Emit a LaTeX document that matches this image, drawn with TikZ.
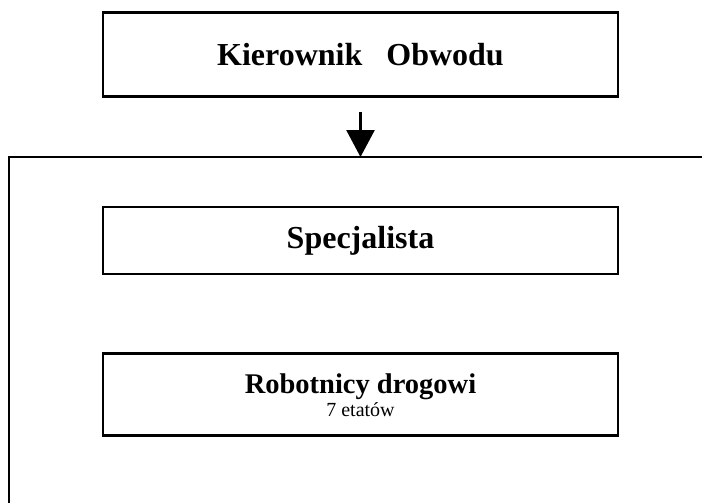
\documentclass[tikz,border=0pt]{standalone}
\usepackage{fontspec}
\setmainfont{Liberation Serif}
\usetikzlibrary{arrows.meta, positioning}

\begin{document}
\begin{tikzpicture}[
    x=1pt, y=-1pt,
    box/.style={rectangle, draw, line width=2.7pt, minimum width=515pt, align=center, inner sep=0pt},
    boxtitle/.style={font=\fontsize{32}{36}\selectfont\bfseries},
    arrow/.style={-{Triangle[length=27pt, width=28pt]}, line width=2.7pt},
    frame/.style={line width=2.7pt}
]
\useasboundingbox (0,0) rectangle (702,503);

% Kierownik
\node[box, boxtitle, minimum height=84pt, anchor=north] (kier) at (360.5,11) {Kierownik\ \ \ Obwodu};

% Obwod (frame)
\coordinate (branch) at (360.5,157);
\coordinate (frameright) at (702,157);
\coordinate (framebottom) at (9,503);
\draw[frame] (frameright) -- (branch) -| (framebottom);

% Stanowiska
\node[box, boxtitle, minimum height=67pt, below=108pt of kier] (spec) {Specjalista};
\node[box, minimum height=82pt, below=77pt of spec, font=\fontsize{20}{23}\selectfont] (robot) {{\fontsize{28.5}{23}\selectfont\bfseries Robotnicy drogowi}\\7 etatów};

% Arrows
\draw[arrow, shorten <=14pt] (kier.south) -- (branch);

\end{tikzpicture}
\end{document}
